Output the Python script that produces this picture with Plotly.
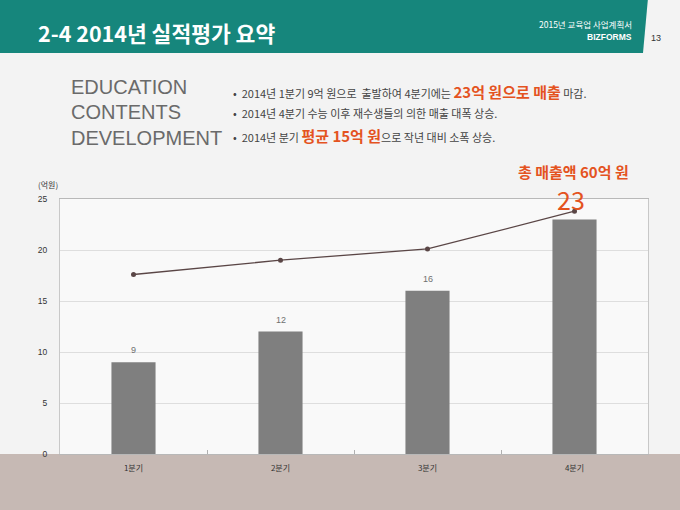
"""
2014 performance summary slide: quarterly sales bars with trend line.
"""
import plotly.graph_objects as go

W, H = 680, 510
# the page photo shows the paper 5px in from the top and 500px tall
OFF, HP = 5, 500

quarters = ["1분기", "2분기", "3분기", "4분기"]
sales = [9, 12, 16, 23]
trend = [17.6, 19.0, 20.1, 23.8]
y_ticks = [0, 5, 10, 15, 20, 25]

title = "2-4 2014년 실적평가 요약"
doc_name = "2015년 교육업 사업계획서"
brand = "BIZFORMS"
page_no = "13"
heading = ["EDUCATION", "CONTENTS", "DEVELOPMENT"]
total_note = "총 매출액 60억 원"
unit_label = "(억원)"

ORANGE = "#e4531f"
TEAL = "#16867c"
KR = "Noto Sans CJK KR"


def px(x):
    return x / W


def py(y):
    return 1 - (y - OFF) / HP


def hl(s, size):
    return f"<span style='color:{ORANGE};font-size:{size}px'><b>{s}</b></span>"


bullets = [
    "•  2014년 1분기 9억 원으로  출발하여 4분기에는 " + hl("23억 원으로 매출", 15) + " 마감.",
    "•  2014년 4분기 수능 이후 재수생들의 의한 매출 대폭 상승.",
    "•  2014년 분기 " + hl("평균 15억 원", 15) + "으로 작년 대비 소폭 상승.",
]

fig = go.Figure()
fig.add_trace(
    go.Bar(
        x=quarters,
        y=sales,
        marker={"color": "#7f7f7f", "line": {"width": 0}},
        width=0.3,
        hoverinfo="skip",
    )
)
fig.add_trace(
    go.Scatter(
        x=quarters,
        y=trend,
        mode="lines+markers",
        line={"color": "#5a4646", "width": 1.3},
        marker={"color": "#5a4646", "size": 5},
        hoverinfo="skip",
    )
)

# value labels above bars; the last one is the big orange callout
for i, (q, v) in enumerate(zip(quarters, sales)):
    last = i == len(sales) - 1
    fig.add_annotation(
        x=q, y=v, xref="x", yref="y",
        text=str(v),
        showarrow=False,
        yanchor="bottom",
        xshift=-4 if last else 0,
        yshift=0 if last else 5,
        font={"family": KR if last else "Liberation Sans",
              "size": 25 if last else 9,
              "color": ORANGE if last else "#707070"},
    )

shapes = [
    # header band with slanted right edge
    dict(type="path", xref="paper", yref="paper", layer="below",
         path=f"M 0,{py(-2)} L {px(648)},{py(-2)} L {px(643)},{py(53)} L 0,{py(53)} Z",
         fillcolor=TEAL, line={"width": 0}),
    # taupe floor band
    dict(type="rect", xref="paper", yref="paper", layer="below",
         x0=0, x1=1, y0=py(515), y1=py(454),
         fillcolor="#c6b9b4", line={"width": 0}),
]

annotations = [
    dict(text=f"<b>{title}</b>", x=px(36), y=py(32), xanchor="left", yanchor="middle",
         font={"family": KR, "size": 21.5, "color": "white"}),
    dict(text=doc_name, x=px(634), y=py(24), xanchor="right", yanchor="middle",
         font={"family": KR, "size": 8.5, "color": "white"}),
    dict(text=f"<b>{brand}</b>", x=px(634), y=py(37), xanchor="right", yanchor="middle",
         font={"family": "Liberation Sans Narrow, Liberation Sans", "size": 8.5, "color": "white"}),
    dict(text=page_no, x=px(656), y=py(38), xanchor="center", yanchor="middle",
         font={"family": "Liberation Sans Narrow, Liberation Sans", "size": 9, "color": "#333333"}),
    dict(text=f"<b>{total_note}</b>", x=px(631), y=py(171), xanchor="right", yanchor="middle",
         font={"family": KR, "size": 15, "color": ORANGE}),
    dict(text=unit_label, x=px(48), y=py(184), xanchor="center", yanchor="middle",
         font={"family": KR, "size": 8, "color": "#333333"}),
]
for i, word in enumerate(heading):
    annotations.append(
        dict(text=word, x=px(69), y=py(87 + 25.5 * i), xanchor="left", yanchor="middle",
             font={"family": "Liberation Sans", "size": 20, "color": "#6a6a6a"})
    )
for i, yy in enumerate([92, 113, 135]):
    annotations.append(
        dict(text=bullets[i], x=px(231), y=py(yy), xanchor="left", yanchor="middle",
             font={"family": KR, "size": 11, "color": "#444444"})
    )
for a in annotations:
    a.update(xref="paper", yref="paper", showarrow=False)
    fig.add_annotation(**a)

fig.update_layout(
    autosize=True,
    margin={"l": 0, "r": 0, "t": 0, "b": 0},
    paper_bgcolor="#f3f3f3",
    plot_bgcolor="#f9f9f9",
    showlegend=False,
    bargap=0.7,
    shapes=shapes,
    font={"family": KR},
)
fig.update_xaxes(
    domain=[px(60), px(648)],
    type="category",
    tickson="boundaries",
    ticks="inside",
    ticklen=4,
    tickcolor="#b0b0b0",
    showline=True,
    linecolor="#b8b8b8",
    mirror=True,
    showgrid=False,
    tickfont={"family": KR, "size": 8, "color": "#333333"},
    ticklabelstandoff=6,
)
fig.update_yaxes(
    domain=[py(454), py(199)],
    range=[0, 25],
    tickvals=y_ticks,
    showline=True,
    linecolor="#c8c8c8",
    mirror=True,
    gridcolor="#dedede",
    zeroline=False,
    ticks="",
    tickfont={"family": "Liberation Sans", "size": 8.5, "color": "#333333"},
    ticklabelstandoff=10,
)

# let the figure fill the whole window, pinned to the top-left corner
pin = (
    "document.body.style.margin='0';"
    "document.documentElement.style.overflow='hidden';"
    "var d=document.getElementById('{plot_id}');"
    "d.style.position='fixed';d.style.left='0';d.style.top='0';"
    "d.style.width='100vw';d.style.height='100vh';"
    "Plotly.Plots.resize(d);"
)
fig.write_html(
    "out.html",
    config={"displayModeBar": False, "responsive": True},
    default_width="100vw",
    default_height="100vh",
    post_script=pin,
)
